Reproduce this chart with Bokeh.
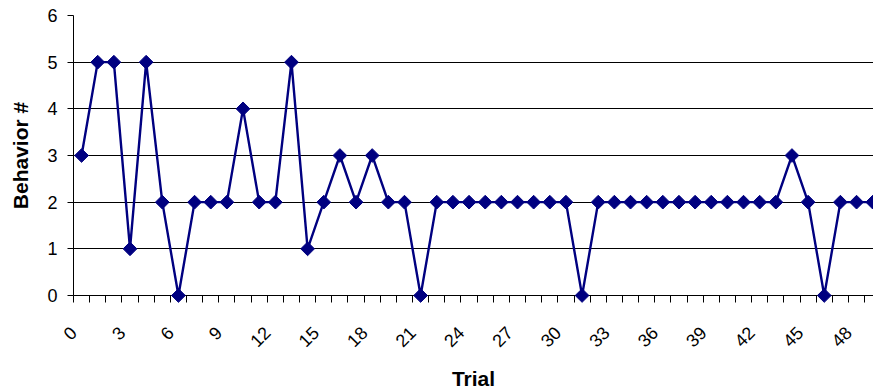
import math
from bokeh.plotting import figure
from bokeh.models import Range1d, FixedTicker, ColumnDataSource
from bokeh.embed import file_html
from bokeh.resources import INLINE

trials = list(range(50))
behavior = [3, 5, 5, 1, 5, 2, 0, 2, 2, 2,
            4, 2, 2, 5, 1, 2, 3, 2, 3, 2,
            2, 0, 2, 2, 2, 2, 2, 2, 2, 2,
            2, 0, 2, 2, 2, 2, 2, 2, 2, 2,
            2, 2, 2, 2, 3, 2, 0, 2, 2, 2]
x_tick_labels = list(range(0, 49, 3))
y_ticks = [0, 1, 2, 3, 4, 5, 6]

src = ColumnDataSource(dict(x=trials, y=behavior))

p = figure(width=873, height=392, output_backend="svg", toolbar_location=None,
           x_range=Range1d(-0.5, 49.05), y_range=Range1d(0, 6))
p.min_border_left = 73
p.min_border_right = 0
p.min_border_top = 15
p.min_border_bottom = 96
p.outline_line_color = None
p.background_fill_color = "white"
p.border_fill_color = "white"

p.line("x", "y", source=src, line_color="#000080", line_width=2.4)
pts = p.scatter("x", "y", source=src, marker="square", size=9.7, angle=math.pi / 4,
                fill_color="#000080", line_color="#000080")
pts.level = "overlay"

# x axis: labels anchored at the category boundary left of each category
label_pos = [t - 0.5 for t in x_tick_labels]
xa = p.xaxis[0]
xa.ticker = FixedTicker(ticks=label_pos,
                        minor_ticks=[i - 0.5 for i in range(51)])
xa.major_label_overrides = {pos: str(t) for pos, t in zip(label_pos, x_tick_labels)}
xa.major_tick_out = 0
xa.major_tick_in = 0
xa.minor_tick_out = 7
xa.minor_tick_in = 0
xa.minor_tick_line_color = "black"
xa.axis_line_color = "black"
xa.major_label_orientation = math.pi / 4
xa.major_label_text_font = "Liberation Sans"
xa.major_label_text_font_size = "18px"
xa.major_label_text_color = "black"
xa.major_label_standoff = 27
xa.axis_label = "Trial"
xa.axis_label_text_font = "Liberation Sans"
xa.axis_label_text_font_style = "bold"
xa.axis_label_text_font_size = "21px"
xa.axis_label_text_color = "black"
xa.axis_label_standoff = 11

# y axis
ya = p.yaxis[0]
ya.ticker = FixedTicker(ticks=y_ticks)
ya.major_tick_out = 6
ya.major_tick_in = 0
ya.minor_tick_line_color = None
ya.axis_line_color = "black"
ya.major_tick_line_color = "black"
ya.major_label_text_font = "Liberation Sans"
ya.major_label_text_font_size = "18px"
ya.major_label_text_color = "black"
ya.major_label_standoff = 10
ya.axis_label = "Behavior #"
ya.axis_label_text_font = "Liberation Sans"
ya.axis_label_text_font_style = "bold"
ya.axis_label_text_font_size = "21px"
ya.axis_label_text_color = "black"
ya.axis_label_standoff = 12

p.xgrid.grid_line_color = None
p.ygrid.ticker = FixedTicker(ticks=y_ticks)
p.ygrid.grid_line_color = "black"
p.ygrid.grid_line_width = 1

open("out.html", "w").write(file_html(p, INLINE))
